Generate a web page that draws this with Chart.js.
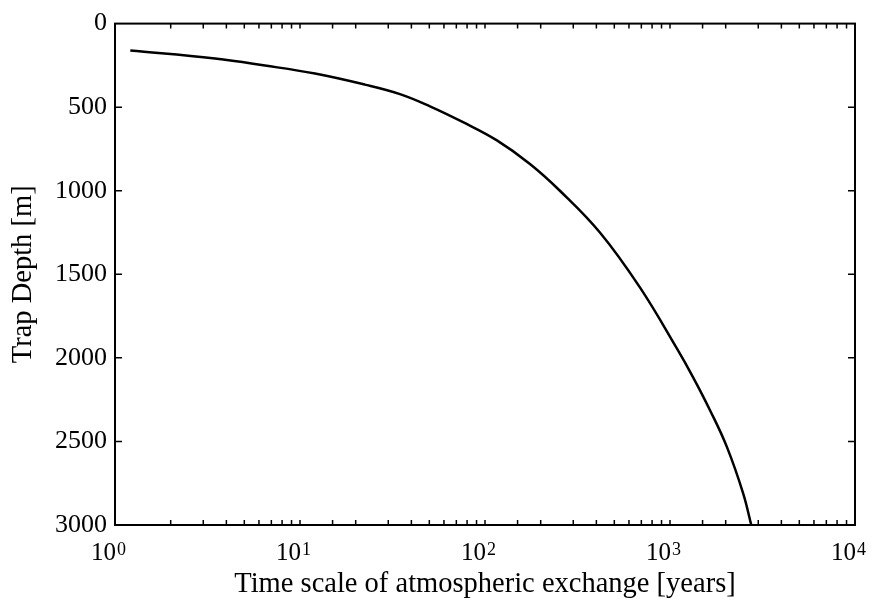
<!DOCTYPE html>
<html lang="en">
<head>
<meta charset="UTF-8">
<title>Trap Depth vs Time scale of atmospheric exchange</title>
<script src="https://cdn.jsdelivr.net/npm/chart.js"></script>
<style>
  html, body { margin: 0; padding: 0; background: #fff; }
</style>
</head>
<body>
<canvas id="depthChart" width="873" height="602"></canvas>
<script>
// exchange time scale [years] and the matching trap depth [m]
const timeScale = [1.21, 3.47, 6.47, 12.05, 22.4, 34.7, 50.4, 76.1, 116, 175, 254, 418, 689, 1091, 1331, 1645, 2032, 2483, 2750];
const trapDepth = [161, 209, 251, 299, 365, 422, 495, 590, 699, 840, 1000, 1250, 1580, 1945, 2115, 2313, 2534, 2809, 3000];
const depthTicks = [0, 500, 1000, 1500, 2000, 2500, 3000];
const decadeExponents = ['0', '1', '2', '3', '4'];

const FONT = '"Liberation Serif", "Times New Roman", serif';
const INK = '#000';

// box frame, inward tick marks on all four sides, and 10^n labels
const framePlugin = {
    id: 'frame',
    afterDraw(chart) {
        const { ctx, chartArea } = chart;
        const { left, top, right, bottom } = chartArea;
        const x = chart.scales.x;
        const y = chart.scales.y;
        ctx.save();
        ctx.strokeStyle = INK;
        ctx.lineWidth = 2;
        ctx.strokeRect(left, top, right - left, bottom - top);

        ctx.lineWidth = 1.5;
        ctx.beginPath();
        x.ticks.forEach(t => {
            const px = x.getPixelForValue(t.value);
            if (px <= left + 1 || px >= right - 1) return;
            ctx.moveTo(px, bottom); ctx.lineTo(px, bottom - 5);
            ctx.moveTo(px, top); ctx.lineTo(px, top + 5);
        });
        y.ticks.forEach(t => {
            const py = y.getPixelForValue(t.value);
            if (py <= top + 1 || py >= bottom - 1) return;
            ctx.moveTo(left, py); ctx.lineTo(left + 7, py);
            ctx.moveTo(right, py); ctx.lineTo(right - 7, py);
        });
        ctx.stroke();

        ctx.fillStyle = INK;
        ctx.textBaseline = 'alphabetic';
        ctx.textAlign = 'left';
        decadeExponents.forEach(e => {
            const px = x.getPixelForValue(Math.pow(10, Number(e)));
            ctx.font = '25px ' + FONT;
            const wBase = ctx.measureText('10').width;
            ctx.font = '18px ' + FONT;
            const wExp = ctx.measureText(e).width;
            const x0 = px - 7 - (wBase + wExp) / 2;
            ctx.font = '25px ' + FONT;
            ctx.fillText('10', x0, 560);
            ctx.font = '18px ' + FONT;
            ctx.fillText(e, x0 + wBase + 1, 555);
        });
        ctx.restore();
    }
};

const ctx = document.getElementById('depthChart').getContext('2d');
const depthChart = new Chart(ctx, {
    type: 'line',
    data: {
        datasets: [{
            data: timeScale.map((t, i) => ({ x: t, y: trapDepth[i] })),
            borderColor: '#000',
            borderWidth: 2.5,
            pointRadius: 0,
            fill: false,
            tension: 0.4
        }]
    },
    options: {
        responsive: false,
        animation: false,
        devicePixelRatio: 1,
        layout: { padding: { left: 0, top: 23, right: 18, bottom: 0 } },
        plugins: {
            legend: { display: false },
            tooltip: { enabled: false }
        },
        scales: {
            x: {
                type: 'logarithmic',
                min: 1,
                max: 10000,
                ticks: { display: false },
                grid: { display: false, drawTicks: false },
                border: { display: false },
                title: {
                    display: true,
                    text: 'Time scale of atmospheric exchange [years]',
                    color: INK,
                    font: { family: FONT, size: 28.5 },
                    padding: { top: 0, bottom: 0 }
                },
                afterFit(scale) { scale.height = 77; }
            },
            y: {
                type: 'linear',
                reverse: true,
                min: 0,
                max: 3000,
                afterBuildTicks(scale) {
                    scale.ticks = depthTicks.map(v => ({ value: v }));
                },
                ticks: {
                    color: INK,
                    font: { family: FONT, size: 26 },
                    padding: 8,
                    callback: v => String(v)
                },
                grid: { display: false, drawTicks: false },
                border: { display: false },
                title: {
                    display: true,
                    text: 'Trap Depth [m]',
                    color: INK,
                    font: { family: FONT, size: 28.5 },
                    padding: { top: 6, bottom: 0 }
                },
                afterFit(scale) { scale.width = 115; }
            }
        }
    },
    plugins: [framePlugin]
});
</script>
</body>
</html>
